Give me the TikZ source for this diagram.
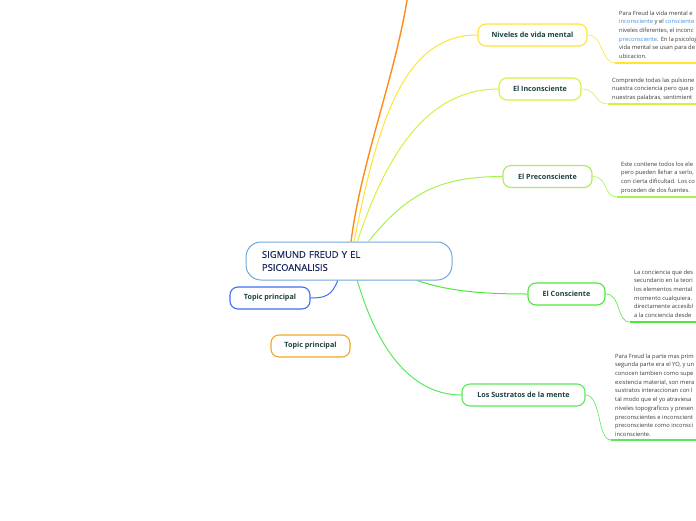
\documentclass[tikz,border=0pt]{standalone}
\usepackage{fontspec}
\setmainfont{Open Sans}
\newfontfamily\titlefont{Open Sans}[FakeBold=0.5]
\usetikzlibrary{positioning}
\definecolor{titlecol}{HTML}{1B2A5E}
\definecolor{labelcol}{HTML}{1E4040}
\definecolor{notecol}{HTML}{3A3A3A}
\definecolor{linkcol}{HTML}{3C8FDC}
\definecolor{ctrcol}{HTML}{6FA8DC}
\definecolor{bluecol}{HTML}{3D6FF0}
\definecolor{orangecol}{HTML}{F5A623}
\definecolor{orangeln}{HTML}{FF8C1A}
\definecolor{nivcol}{HTML}{FFE433}
\definecolor{inccol}{HTML}{D8F03C}
\definecolor{precol}{HTML}{A8F050}
\definecolor{concol}{HTML}{4DE83A}
\definecolor{suscol}{HTML}{5AE85A}

\begin{document}
\begin{tikzpicture}[
  x=1pt, y=-1pt,
  topic/.style={draw, rounded corners=8pt, line width=1.1pt, fill=white, minimum height=22pt, inner sep=0pt,
    font=\fontsize{7.2}{8}\selectfont\bfseries, text=labelcol},
  note/.style={anchor=north west, align=left, inner sep=0pt, font=\fontsize{5.8}{8.7}\selectfont, text=notecol},
  link/.style={line width=1pt},
  twig/.style={line width=0.6pt},
  bar/.style={line width=1.6pt}
]
\useasboundingbox (0,0) rectangle (696,520);
\clip (0,0) rectangle (696,520);
% central topic and the two loose topics
\node[draw=ctrcol, line width=1pt, rounded corners=15pt, fill=white, minimum width=206pt, minimum height=38pt,
  text width=174pt, align=left, font=\titlefont\fontsize{9.4}{13}\selectfont, text=titlecol] (ctr) at (349,261)
  {SIGMUND FREUD Y EL\\PSICOANALISIS};
\node[topic, draw=bluecol, minimum width=80pt] (topA) at (270,298) {Topic principal};
\node[topic, draw=orangecol, minimum width=79pt] (topB) at (310.5,346) {Topic principal};
% branches
\node[topic, draw=nivcol, minimum width=109pt] (niv) at (532.5,35) {Niveles de vida mental};
\node[topic, draw=inccol, minimum width=82pt] (inc) at (540,89) {El Inconsciente};
\node[topic, draw=precol, minimum width=89pt] (pre) at (547.5,176.5) {El Preconsciente};
\node[topic, draw=concol, minimum width=77pt] (con) at (566.5,294) {El Consciente};
\node[topic, draw=suscol, minimum width=123pt] (sus) at (523.5,395) {Los Sustratos de la mente};
\coordinate (up) at (408,-6);
\draw[link, orangeln, line width=1.4pt] (ctr.84) .. controls +(10,-80) and +(-12,80) .. (up);
\draw[link, nivcol] (ctr.75) .. controls +(25,-130) and +(-70,0) .. (niv.west);
\draw[link, inccol] (ctr.67) .. controls +(30,-90) and +(-70,0) .. (inc.west);
\draw[link, precol] (ctr.45) .. controls +(40,-50) and +(-60,0) .. (pre.west);
\draw[link, concol] (ctr.-16) .. controls +(30,10) and +(-50,0) .. (con.west);
\draw[link, suscol] (ctr.-67) .. controls +(25,85) and +(-40,0) .. (sus.west);
\draw[link, bluecol] (ctr.-120) .. controls +(-6,15) and +(15,0) .. (topA.east);
% notes
\coordinate (n1) at (615,63);
\coordinate (n2) at (608,104);
\coordinate (n3) at (617,197);
\coordinate (n4) at (630,322);
\coordinate (n5) at (611,440);
\draw[twig, nivcol] (niv.east) .. controls +(16,0) and +(-14,0) .. (n1);
\draw[twig, inccol] (inc.east) .. controls +(16,0) and +(-14,0) .. (n2);
\draw[twig, precol] (pre.east) .. controls +(16,0) and +(-14,0) .. (n3);
\draw[twig, concol] (con.east) .. controls +(16,0) and +(-14,0) .. (n4);
\draw[twig, suscol] (sus.east) .. controls +(16,0) and +(-14,0) .. (n5);
\draw[bar, nivcol] (n1) -- ++(100,0);
\draw[bar, inccol] (n2) -- ++(100,0);
\draw[bar, precol] (n3) -- ++(100,0);
\draw[bar, concol] (n4) -- ++(100,0);
\draw[bar, suscol] (n5) -- ++(100,0);
\node[note] (t1) at (619,10.5) {Para Freud la vida mental e\\
  {\color{linkcol}inconsciente} y el {\color{linkcol}consciente}\\
  niveles diferentes, el inconc\\
  {\color{linkcol}preconsciente}. En la psicolog\\
  vida mental se usan para de\\
  ubicacion.};
\node[note] (t2) at (612,77.5) {Comprende todas las pulsione\\nuestra conciencia pero que p\\nuestras palabras, sentimient};
\node[note] (t3) at (621,161.5) {Este contiene todos los ele\\pero pueden llehar a serlo,\\con cierta dificultad. Los co\\proceden de dos fuentes.};
\node[note] (t4) at (634,269.5) {La conciencia que des\\secundario en la teori\\los elementos mental\\momento cualquiera.\\directamente accesibl\\a la conciencia desde};
\node[note] (t5) at (615,353.5) {Para Freud la parte mas prim\\segunda parte era el YO, y un\\conocen tambien como supe\\existencia material, son mera\\sustratos interaccionan con l\\tal modo que el yo atraviesa\\niveles topograficos y presen\\preconscientes e inconscient\\preconsciente como inconsci\\inconsciente.};
\end{tikzpicture}
\end{document}
